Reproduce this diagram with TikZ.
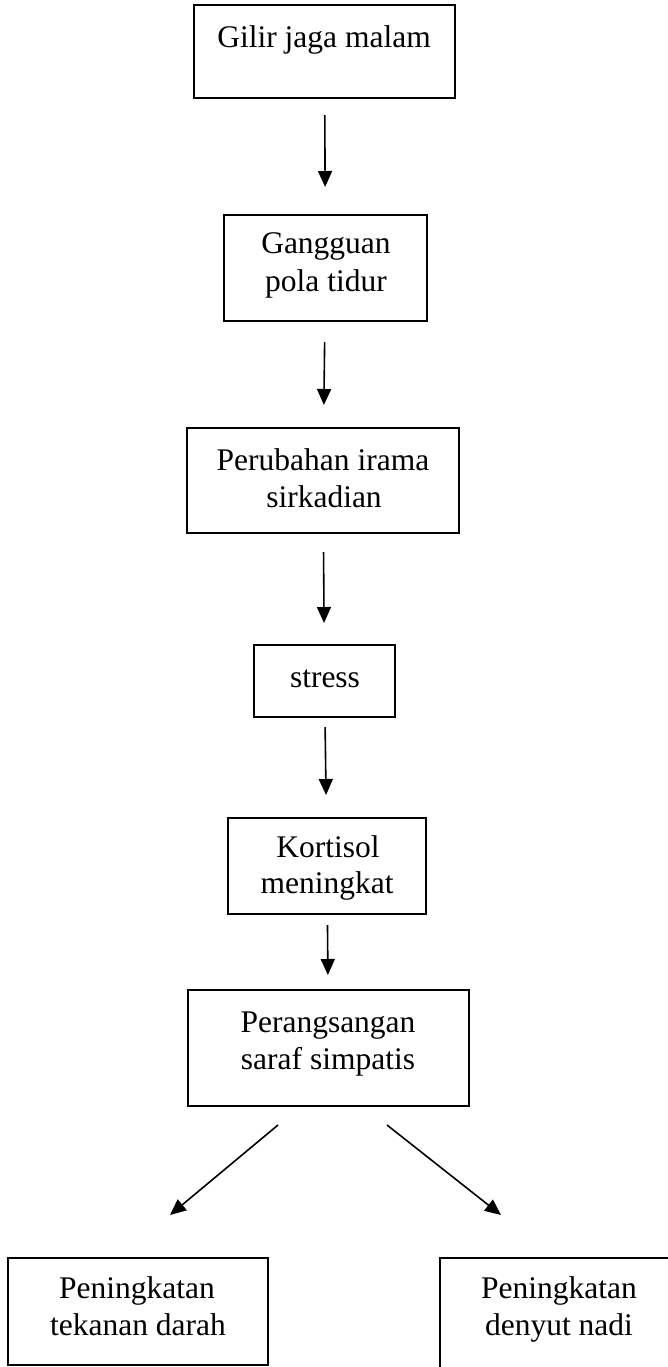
\documentclass[tikz,border=0pt]{standalone}
\usepackage{fontspec}
\setmainfont{Liberation Serif}
\usetikzlibrary{arrows.meta}
\begin{document}
\begin{tikzpicture}[x=0.5pt,y=-0.5pt,
  box/.style={draw,line width=1pt,inner sep=0pt,outer sep=0pt},
  lbl/.style={anchor=base,inner sep=0pt,outer sep=0pt,font=\fontsize{15.75}{18.5}\selectfont},
  arr/.style={-{Triangle[width=7pt,length=8pt]},line width=0.8pt}]
\clip (0,0) rectangle (668,1367);
\useasboundingbox (0,0) rectangle (668,1367);

% boxes
\node[box,minimum width=130.5pt,minimum height=46.5pt] (b1) at (324.5,51.5) {};
\node[box,minimum width=101.5pt,minimum height=53pt] (b2) at (325.5,268) {};
\node[box,minimum width=136pt,minimum height=52.5pt] (b3) at (323,480.5) {};
\node[box,minimum width=70.5pt,minimum height=36pt] (b4) at (324.5,681) {};
\node[box,minimum width=99pt,minimum height=48pt] (b5) at (327,866) {};
\node[box,minimum width=140.5pt,minimum height=58pt] (b6) at (328.5,1048) {};
\node[box,minimum width=130pt,minimum height=53.5pt] (b7) at (138,1311.5) {};
\node[box,minimum width=150pt,minimum height=70pt] (b8) at (590,1328) {};

% texts
\node[lbl] (t1) at (324,47) {Gilir jaga malam};
\node[lbl] (t2a) at (326,253) {Gangguan};
\node[lbl] (t2b) at (326,291) {pola tidur};
\node[lbl] (t3a) at (323,470) {Perubahan irama};
\node[lbl] (t3b) at (324,507) {sirkadian};
\node[lbl] (t4) at (325,687) {stress};
\node[lbl] (t5a) at (328,857) {Kortisol};
\node[lbl] (t5b) at (327,893) {meningkat};
\node[lbl] (t6a) at (328,1032) {Perangsangan};
\node[lbl] (t6b) at (328,1069) {saraf simpatis};
\node[lbl] (t7a) at (137,1298) {Peningkatan};
\node[lbl] (t7b) at (138,1335) {tekanan darah};
\node[lbl] (t8a) at (559,1298) {Peningkatan};
\node[lbl] (t8b) at (559,1335) {denyut nadi};

% vertical arrows
\draw[arr,shorten <=8.5pt,shorten >=14pt] (b1) -- (b2);
\draw[arr,shorten <=10.5pt,shorten >=11.5pt] (b2) -- (b3);
\draw[arr,shorten <=9.5pt,shorten >=11pt] (b3) -- (b4);
\draw[arr,shorten <=5pt,shorten >=11.5pt] (b4) -- (b5);
\draw[arr,shorten <=5.5pt,shorten >=7.5pt] (b5) -- (b6);

% diagonal arrows
\coordinate (d1s) at (278,1125);
\coordinate (d1e) at (170,1215);
\coordinate (d2s) at (387,1125);
\coordinate (d2e) at (501,1215);
\draw[arr] (d1s) -- (d1e);
\draw[arr] (d2s) -- (d2e);
\end{tikzpicture}
\end{document}
